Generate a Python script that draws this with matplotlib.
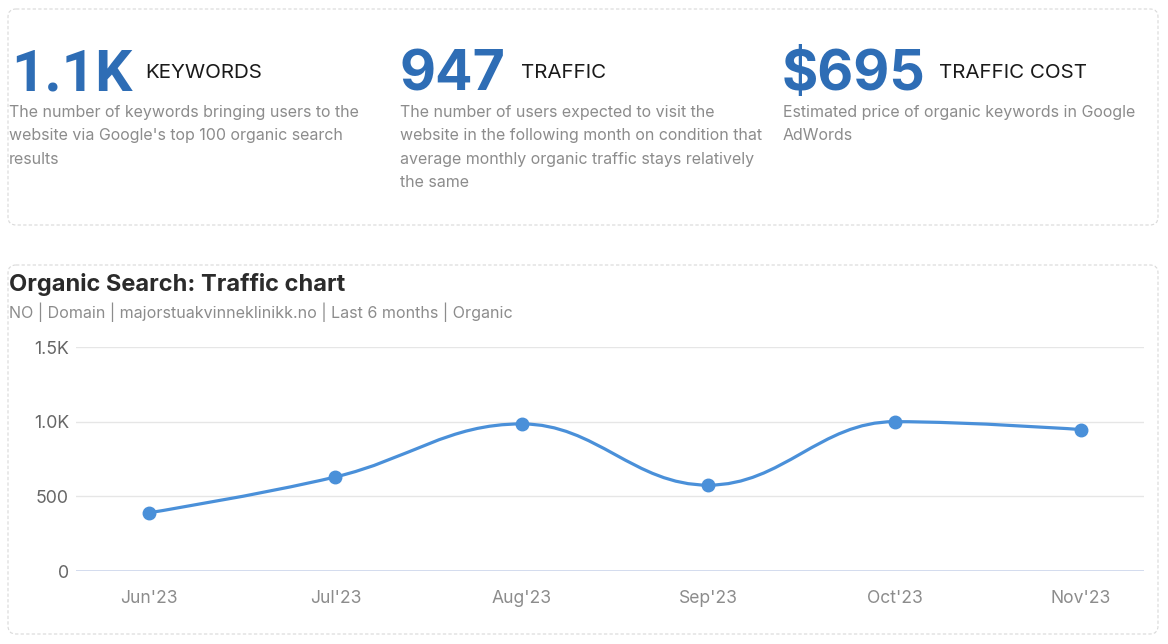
import matplotlib
matplotlib.use("Agg")
import matplotlib.pyplot as plt
from matplotlib.patches import FancyBboxPatch, PathPatch
from matplotlib.path import Path

plt.rcParams['font.family'] = ['Inter', 'DejaVu Sans']

# ---------------- data ----------------
months = ["Jun'23", "Jul'23", "Aug'23", "Sep'23", "Oct'23", "Nov'23"]
traffic = [390, 630, 985, 575, 1000, 947]
y_ticks = [0, 500, 1000, 1500]
y_tick_labels = ["0", "500", "1.0K", "1.5K"]

kpi_values = ["1.1K", "947", "$695"]
kpi_labels = ["KEYWORDS", "TRAFFIC", "TRAFFIC COST"]
kpi_desc = [
    ["The number of keywords bringing users to the",
     "website via Google's top 100 organic search",
     "results"],
    ["The number of users expected to visit the",
     "website in the following month on condition that",
     "average monthly organic traffic stays relatively",
     "the same"],
    ["Estimated price of organic keywords in Google",
     "AdWords"],
]
chart_title = "Organic Search: Traffic chart"
chart_subtitle = "NO | Domain | majorstuakvinneklinikk.no | Last 6 months | Organic"

# ---------------- figure ----------------
W, H = 1168, 644
fig = plt.figure(figsize=(W / 100, H / 100), dpi=100)
fig.patch.set_facecolor("white")

bg = fig.add_axes([0, 0, 1, 1])
bg.set_xlim(0, W)
bg.set_ylim(H, 0)
bg.axis("off")

# cards
for (x0, y0, x1, y1) in [(8, 9, 1158, 225), (8, 265, 1158, 634)]:
    bg.add_patch(FancyBboxPatch((x0, y0), x1 - x0, y1 - y0,
                                boxstyle="round,pad=0,rounding_size=8",
                                fill=False, edgecolor="#d9d9d9", linewidth=0.8,
                                linestyle=(0, (3, 2))))

# KPI blocks
num_x = [11, 399, 782]
lab_x = [145, 521, 939]
desc_x = [9, 400, 783]
num_font = [['Roboto', 'Inter'], ['Inter'], ['Inter']]
num_size = [42, 40, 40]
for i in range(3):
    bg.text(num_x[i], 90, kpi_values[i], fontsize=num_size[i], fontweight="bold",
            family=num_font[i], color="#2e6db5", va="baseline", ha="left")
    bg.text(lab_x[i], 78, kpi_labels[i], fontsize=14.8, color="#1a1a1a",
            va="baseline", ha="left")
    for j, line in enumerate(kpi_desc[i]):
        bg.text(desc_x[i], 112 + j * 23.6, line, fontsize=11.5, color="#8c8c8c",
                va="center", ha="left")

bg.text(9, 284, chart_title, fontsize=17, fontweight="bold", color="#2b2b2b",
        va="center", ha="left")
bg.text(9, 312, chart_subtitle, fontsize=11.55, color="#8c8c8c",
        va="center", ha="left")

# ---------------- chart ----------------
ax = fig.add_axes([76 / W, (H - 571) / H, (1144 - 76) / W, (571 - 347) / H])
ax.set_facecolor("none")
xs = list(range(len(months)))

# Highcharts-like spline path through the data points
def spline_path(px, py, smoothing=1.5):
    denom = smoothing + 1
    n = len(px)
    lc = [None] * n
    rc = [None] * n
    for i in range(1, n - 1):
        lx = (smoothing * px[i] + px[i - 1]) / denom
        ly = (smoothing * py[i] + py[i - 1]) / denom
        rx = (smoothing * px[i] + px[i + 1]) / denom
        ry = (smoothing * py[i] + py[i + 1]) / denom
        if rx != lx:
            corr = ((ry - ly) * (rx - px[i])) / (rx - lx) + py[i] - ry
            ly += corr
            ry += corr
        if ly > py[i - 1] and ly > py[i]:
            ly = max(py[i - 1], py[i]); ry = 2 * py[i] - ly
        elif ly < py[i - 1] and ly < py[i]:
            ly = min(py[i - 1], py[i]); ry = 2 * py[i] - ly
        if ry > py[i + 1] and ry > py[i]:
            ry = max(py[i + 1], py[i]); ly = 2 * py[i] - ry
        elif ry < py[i + 1] and ry < py[i]:
            ry = min(py[i + 1], py[i]); ly = 2 * py[i] - ry
        lc[i] = (lx, ly)
        rc[i] = (rx, ry)
    verts = [(px[0], py[0])]
    codes = [Path.MOVETO]
    for i in range(1, n):
        c1 = rc[i - 1] if rc[i - 1] is not None else (px[i - 1], py[i - 1])
        c2 = lc[i] if lc[i] is not None else (px[i], py[i])
        verts += [c1, c2, (px[i], py[i])]
        codes += [Path.CURVE4] * 3
    return Path(verts, codes)

line_color = "#4a90d9"
ax.add_patch(PathPatch(spline_path(xs, traffic), fill=False, edgecolor=line_color,
                       linewidth=2.3, capstyle="round", joinstyle="round", zorder=3))
ax.plot(xs, traffic, linestyle="none", marker="o", markersize=9,
        color=line_color, zorder=4)

ax.set_xlim(-0.392, 5.338)
ax.set_ylim(0, 1500)
ax.set_yticks(y_ticks)
ax.set_yticklabels(y_tick_labels)
ax.set_xticks(xs)
ax.set_xticklabels(months)

for v in y_ticks[1:]:
    ax.axhline(v, color="#e6e6e6", linewidth=1, zorder=1)
ax.axhline(0, color="#ccd6eb", linewidth=1.2, zorder=2)

for s in ax.spines.values():
    s.set_visible(False)
ax.tick_params(axis="y", length=0, pad=5, labelsize=12.8, labelcolor="#666666")
ax.tick_params(axis="x", length=0, pad=14, labelsize=12.6, labelcolor="#8c8c8c")

fig.savefig("out.png", dpi=100, facecolor="white")
